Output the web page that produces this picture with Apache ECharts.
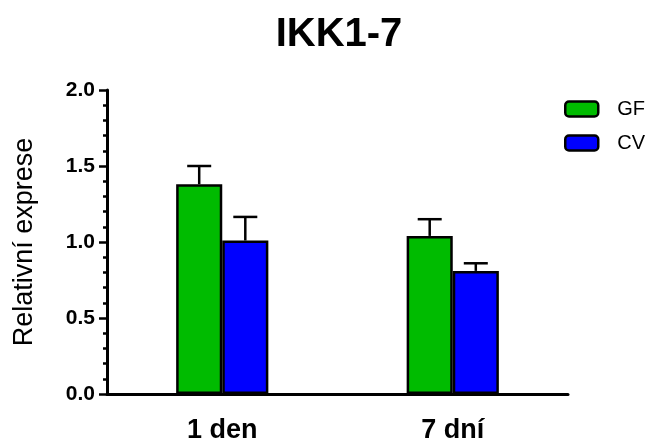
<!DOCTYPE html>
<html><head><meta charset="utf-8">
<script src="https://cdn.jsdelivr.net/npm/echarts@6/dist/echarts.min.js"></script>
<style>html,body{margin:0;padding:0;background:#fff}#c{width:653px;height:444px}</style>
</head><body><div id="c"></div>
<script>
const categories = ['1 den', '7 dní'];
const seriesNames = ['GF', 'CV'];
const gfValues = [1.38, 1.04];
const gfErrors = [0.12, 0.11];
const cvValues = [1.01, 0.81];
const cvErrors = [0.155, 0.05];
const yTicks = [0, 0.5, 1.0, 1.5, 2.0];

const FONT = 'Liberation Sans, Arial, sans-serif';
const colors = ['#00bb00', '#0000ff'];
const chart = echarts.init(document.getElementById('c'));

function errSeries(vals, errs, idx) {
  return {
    type: 'custom',
    z: 5,
    silent: true,
    data: vals.map((v, i) => [i, v, errs[i]]),
    renderItem: function (params, api) {
      const i = api.value(0), v = api.value(1), e = api.value(2);
      const band = api.size([1, 0])[0];
      const bw = band * 0.2;
      const base = api.coord([i, v]);
      const top = api.coord([i, v + e]);
      const cx = base[0] + (idx === 0 ? -0.5 : 0.5) * bw;
      const cap = 12;
      const st = { stroke: '#000', lineWidth: 2.5 };
      return { type: 'group', children: [
        { type: 'line', shape: { x1: cx, y1: base[1], x2: cx, y2: top[1] }, style: st },
        { type: 'line', shape: { x1: cx - cap, y1: top[1], x2: cx + cap, y2: top[1] }, style: st }
      ]};
    }
  };
}

chart.setOption({
  animation: false,
  title: { text: 'IKK1-7', left: 334, top: 10, textAlign: 'center',
    textStyle: { fontFamily: FONT, fontSize: 40, fontWeight: 'bold', color: '#000' } },
  legend: {
    data: seriesNames, orient: 'vertical', left: 564, top: 99, padding: 0,
    itemWidth: 33, itemHeight: 15, itemGap: 14,
    textStyle: { fontFamily: FONT, fontSize: 20, color: '#000', padding: [0, 0, 0, 14] },
    itemStyle: { borderColor: '#000', borderWidth: 2.5 }
  },
  grid: { left: 107, right: 85, top: 90, bottom: 49 },
  xAxis: {
    type: 'category', data: categories,
    axisLine: { lineStyle: { color: '#000', width: 3 } },
    axisTick: { alignWithLabel: true, length: 8, lineStyle: { color: '#000', width: 2.5 } },
    axisLabel: { fontFamily: FONT, fontSize: 27, fontWeight: 'bold', color: '#000', margin: 23 }
  },
  yAxis: {
    type: 'value', min: yTicks[0], max: yTicks[yTicks.length - 1], interval: 0.5,
    name: 'Relativní exprese', nameLocation: 'middle', nameGap: 69, nameRotate: 90,
    nameTextStyle: { fontFamily: FONT, fontSize: 27, color: '#000' },
    axisLine: { show: true, lineStyle: { color: '#000', width: 3 } },
    axisTick: { show: true, length: 8, lineStyle: { color: '#000', width: 2.5 } },
    minorTick: { show: true, splitNumber: 5, length: 4, lineStyle: { color: '#000', width: 2.5 } },
    splitLine: { show: false },
    axisLabel: { fontFamily: FONT, fontSize: 21, fontWeight: 'bold', color: '#000', margin: 12,
      formatter: v => v.toFixed(1) }
  },
  series: [
    { name: seriesNames[0], type: 'bar', data: gfValues, barWidth: '20%', barGap: '0%',
      itemStyle: { color: colors[0], borderColor: '#000', borderWidth: 2.5 } },
    { name: seriesNames[1], type: 'bar', data: cvValues, barWidth: '20%', barGap: '0%',
      itemStyle: { color: colors[1], borderColor: '#000', borderWidth: 2.5 } },
    errSeries(gfValues, gfErrors, 0),
    errSeries(cvValues, cvErrors, 1)
  ]
});
</script></body></html>
